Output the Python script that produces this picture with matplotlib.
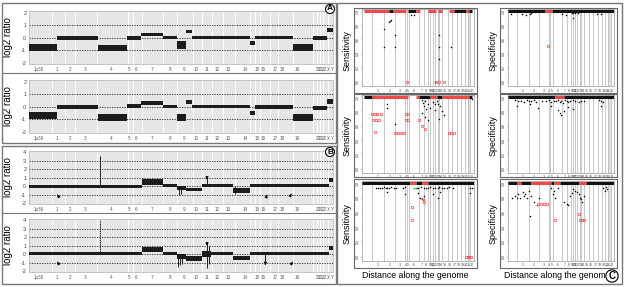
import matplotlib
matplotlib.use("Agg")
import matplotlib.pyplot as plt
from matplotlib.patches import Rectangle

plt.rcParams['font.family'] = ['Liberation Sans', 'DejaVu Sans']

W, H = 624, 287

# ---- panels A/B : array CGH profiles (genome position in probe-index units 0..304)
chrom_bounds = [23, 36, 46, 68, 99, 104, 113, 134, 148, 164, 173, 183, 194, 206,
                221, 226, 231, 241, 249, 264, 284, 288, 291, 294, 299]
chrom_tick_pos = [10, 28, 41, 56, 82, 100, 107, 123, 141, 155, 167, 178, 188, 199,
                  216, 228, 234, 246, 253, 268, 289, 292, 295, 299, 303]
chrom_labels = ['1p36', '1', '2', '3', '4', '5', '6', '7', '8', '9', '10', '11', '12',
                '13', '14', '15', '16', '17', '18', '19', '20', '21', '22', 'X', 'Y']

a1_start = [0, 28, 69, 98, 112, 134, 148, 157, 163, 221, 226, 264, 284, 298]
a1_end = [28, 69, 98, 112, 134, 148, 157, 163, 221, 226, 264, 284, 298, 304]
a1_level = [-0.75, 0.0, -0.8, 0.0, 0.25, 0.0, -0.6, 0.5, 0.0, -0.4, 0.0, -0.75, 0.0, 0.6]
a1_spread = [0.28, 0.14, 0.24, 0.14, 0.14, 0.13, 0.32, 0.14, 0.13, 0.16, 0.13, 0.28, 0.14, 0.17]

a2_start = [0, 28, 69, 98, 112, 134, 148, 157, 163, 221, 226, 264, 284, 298]
a2_end = [28, 69, 98, 112, 134, 148, 157, 163, 221, 226, 264, 284, 298, 304]
a2_level = [-0.7, 0.0, -0.85, 0.05, 0.28, 0.05, -0.85, 0.4, 0.0, -0.5, 0.0, -0.85, -0.1, 0.45]
a2_spread = [0.26, 0.15, 0.26, 0.15, 0.15, 0.12, 0.26, 0.16, 0.13, 0.16, 0.14, 0.28, 0.18, 0.2]

b1_start = [0, 113, 134, 148, 157, 173, 204, 221, 300]
b1_end = [113, 134, 148, 157, 173, 204, 221, 300, 304]
b1_level = [0.0, 0.45, 0.05, -0.2, -0.4, 0.1, -0.5, 0.05, 0.75]
b1_spread = [0.18, 0.35, 0.16, 0.25, 0.22, 0.16, 0.26, 0.17, 0.2]
b1_spike_x = [71, 150, 152, 178, 206]
b1_spike_lo = [0.0, -1.0, -0.9, 0.0, -0.9]
b1_spike_hi = [3.6, 0.0, 0.0, 1.2, 0.0]

b2_start = [0, 113, 134, 148, 157, 173, 182, 204, 221, 300]
b2_end = [113, 134, 148, 157, 173, 182, 204, 221, 300, 304]
b2_level = [0.05, 0.55, 0.1, -0.3, -0.5, 0.0, 0.1, -0.45, 0.05, 0.75]
b2_spread = [0.19, 0.35, 0.16, 0.3, 0.32, 0.35, 0.16, 0.26, 0.17, 0.2]
b2_spike_x = [71, 149, 151, 153, 178, 180, 236]
b2_spike_lo = [0.0, -1.5, -1.3, -1.1, -1.6, -1.2, -1.2]
b2_spike_hi = [4.0, 0.0, 0.0, 0.0, 1.4, 1.0, 0.0]

# arrows: head x, head y, tail x, tail y
b1_arrows = [(27, -0.7, 30, -1.3), (178, 0.75, 178, 1.3), (239, -0.7, 237, -1.4), (264, -0.6, 261, -1.2)]
b2_arrows = [(27, -0.6, 30, -1.2), (178, 1.0, 178, 1.6), (236, -1.3, 237, -0.7), (265, -0.6, 262, -1.2)]

# ---- panel C : sensitivity / specificity along the genome (0..123)
c_bounds = [11, 24, 36, 47, 49, 52, 63, 68, 73, 75, 78, 80, 83, 85, 88, 94, 99, 104,
            109, 113, 116, 119]
c_labels = [str(i) for i in range(1, 23)]

c_bars = {
    (0, 0): [(2, 30, 'r'), (30, 34, 'k'), (34, 48, 'r'), (51, 59, 'k'), (59, 64, 'r'),
             (73, 81, 'r'), (83, 88, 'r'), (96, 101, 'r'), (101, 114, 'k'), (114, 118, 'r'),
             (118, 121, 'k')],
    (0, 1): [(0, 43, 'k'), (43, 51, 'r'), (51, 123, 'k')],
    (1, 0): [(2, 11, 'k'), (11, 51, 'r'), (59, 63, 'r'), (63, 75, 'k'), (75, 82, 'r'),
             (82, 88, 'k'), (88, 118, 'r'), (118, 121, 'k')],
    (1, 1): [(0, 55, 'k'), (55, 65, 'r'), (65, 123, 'k')],
    (2, 0): [(0, 53, 'k'), (53, 59, 'r'), (59, 66, 'k'), (66, 73, 'r'), (73, 123, 'k')],
    (2, 1): [(0, 10, 'k'), (10, 15, 'r'), (15, 27, 'k'), (27, 50, 'r'), (50, 53, 'k'),
             (53, 60, 'r'), (60, 82, 'k'), (82, 90, 'r'), (90, 123, 'k')],
}

c_black_x = {
    (0, 0): [54, 57, 31, 30, 32, 24, 24, 36, 36, 85, 85, 85, 98, 80],
    (0, 1): [4, 16, 21, 26, 27, 63, 67, 74, 76, 78, 81, 103, 108, 76],
    (1, 0): [27, 27, 36, 66, 67, 68, 69, 70, 72, 78, 80, 82, 84, 86, 88, 90, 66, 69, 72,
             75, 80, 85, 121],
    (1, 1): [8, 12, 15, 18, 22, 24, 27, 30, 33, 40, 44, 47, 50, 53, 56, 58, 60, 62, 64, 66,
             68, 70, 72, 75, 78, 82, 85, 88, 106, 108, 110, 10, 25, 35, 50, 58, 60, 62, 65,
             70, 75, 108],
    (2, 0): [15, 18, 20, 22, 24, 26, 28, 30, 32, 35, 37, 45, 47, 60, 62, 65, 68, 70, 72, 75,
             78, 80, 83, 85, 88, 90, 93, 96, 100, 119, 121, 28, 47, 62, 64, 66, 68, 78, 83,
             86, 119],
    (2, 1): [5, 8, 10, 12, 14, 17, 18, 20, 22, 24, 25, 27, 30, 34, 36, 50, 52, 53, 55, 58,
             65, 68, 70, 72, 74, 76, 78, 80, 82, 84, 85, 86, 88, 110, 112, 114, 115],
}
c_black_y = {
    (0, 0): [0.95, 0.95, 0.86, 0.84, 0.88, 0.75, 0.49, 0.66, 0.49, 0.66, 0.49, 0.32, 0.49, 0.0],
    (0, 1): [0.96, 0.96, 0.95, 0.96, 0.97, 0.96, 0.95, 0.97, 0.97, 0.97, 0.97, 0.96, 0.96, 0.9],
    (1, 0): [0.9, 0.85, 0.62, 0.96, 0.92, 0.88, 0.95, 0.84, 0.9, 0.93, 0.9, 0.95, 0.9, 0.87,
             0.8, 0.75, 0.78, 0.72, 0.68, 0.85, 0.82, 0.7, 0.97],
    (1, 1): [0.96, 0.94, 0.95, 0.93, 0.96, 0.94, 0.95, 0.96, 0.93, 0.95, 0.94, 0.96, 0.93,
             0.95, 0.94, 0.96, 0.93, 0.95, 0.92, 0.96, 0.94, 0.93, 0.95, 0.96, 0.94, 0.93,
             0.95, 0.94, 0.96, 0.95, 0.93, 0.88, 0.9, 0.85, 0.88, 0.82, 0.78, 0.75, 0.8,
             0.86, 0.84, 0.88],
    (2, 0): [0.94, 0.93, 0.94, 0.93, 0.95, 0.94, 0.93, 0.94, 0.95, 0.93, 0.94, 0.93, 0.95,
             0.94, 0.93, 0.95, 0.94, 0.93, 0.94, 0.95, 0.93, 0.94, 0.93, 0.95, 0.94, 0.93,
             0.94, 0.95, 0.94, 0.93, 0.94, 0.88, 0.85, 0.87, 0.8, 0.78, 0.82, 0.85, 0.8,
             0.88, 0.87],
    (2, 1): [0.8, 0.82, 0.8, 0.85, 0.8, 0.88, 0.82, 0.85, 0.8, 0.9, 0.55, 0.82, 0.75, 0.7,
             0.8, 0.93, 0.85, 0.9, 0.8, 0.93, 0.75, 0.72, 0.7, 0.82, 0.86, 0.92, 0.9, 0.88,
             0.85, 0.8, 0.78, 0.75, 0.82, 0.93, 0.9, 0.95, 0.92],
}
c_red_x = {
    (0, 0): [49, 81, 85, 90],
    (0, 1): [46],
    (1, 0): [11, 14, 17, 21, 12, 15, 19, 14, 48, 51, 48, 51, 36, 40, 43, 46, 63, 66, 69,
             95, 98, 101],
    (1, 1): [],
    (2, 0): [55, 55, 67, 68, 114, 116, 118, 120],
    (2, 1): [35, 38, 42, 45, 55, 82, 84, 86, 88],
}
c_red_y = {
    (0, 0): [0.0, 0.0, 0.0, 0.0],
    (0, 1): [0.5],
    (1, 0): [0.76, 0.76, 0.76, 0.76, 0.68, 0.68, 0.68, 0.51, 0.76, 0.76, 0.68, 0.68, 0.5,
             0.5, 0.5, 0.5, 0.68, 0.6, 0.55, 0.5, 0.5, 0.5],
    (1, 1): [],
    (2, 0): [0.67, 0.5, 0.78, 0.75, 0.0, 0.0, 0.0, 0.0],
    (2, 1): [0.72, 0.72, 0.72, 0.72, 0.5, 0.58, 0.5, 0.5, 0.5],
}
c_green_x = {(2, 0): [57, 59]}
c_green_y = {(2, 0): [0.93, 0.93]}

RED = '#f04848'

fig = plt.figure(figsize=(W / 100, H / 100), dpi=100)


def add_px_axes(x0, y0, x1, y1):
    return fig.add_axes([x0 / W, 1 - y1 / H, (x1 - x0) / W, (y1 - y0) / H])


def fig_box(x0, y0, x1, y1, lw=1.0, ec='#777777'):
    fig.patches.append(Rectangle((x0 / W, 1 - y1 / H), (x1 - x0) / W, (y1 - y0) / H,
                                 transform=fig.transFigure, fill=False, ec=ec, lw=lw))


def fig_hline(x0, x1, y, lw=0.8, color='#777777'):
    fig.add_artist(plt.Line2D([x0 / W, x1 / W], [1 - y / H, 1 - y / H],
                              transform=fig.transFigure, color=color, lw=lw))


def cgh_panel(ax, starts, ends, levels, spreads, ylim, yticks):
    ax.set_facecolor('#e6e6e6')
    ax.set_xlim(0, 304)
    ax.set_ylim(*ylim)
    for b in chrom_bounds:
        ax.axvline(b, color='white', lw=0.7, zorder=1)
    for t in yticks[1:-1]:
        ax.axhline(t, color='#222222', lw=0.6, ls=(0, (1.5, 1.5)), zorder=2)
    for s, e, lv, sp in zip(starts, ends, levels, spreads):
        ax.fill_between([s, e], lv - sp, lv + sp, color='#1c1c1c', lw=0, zorder=3)
    ax.set_yticks(yticks)
    ax.set_yticklabels([str(t) for t in yticks], fontsize=4, color='#444444')
    ax.set_xticks(chrom_tick_pos)
    ax.set_xticklabels(chrom_labels, fontsize=3.3, color='#555555')
    ax.tick_params(length=0, pad=2)
    for sp in ax.spines.values():
        sp.set_color('#bbbbbb')
        sp.set_linewidth(0.6)


# panel A
axA1 = add_px_axes(29, 11, 333, 64)
cgh_panel(axA1, a1_start, a1_end, a1_level, a1_spread, (-2.1, 2.15), [-2, -1, 0, 1, 2])
axA2 = add_px_axes(29, 80, 333, 133)
cgh_panel(axA2, a2_start, a2_end, a2_level, a2_spread, (-2.1, 2.15), [-2, -1, 0, 1, 2])

# panel B
axB1 = add_px_axes(29, 151, 333, 204)
cgh_panel(axB1, b1_start, b1_end, b1_level, b1_spread, (-2.1, 4.15), [-2, -1, 0, 1, 2, 3, 4])
axB1.vlines(b1_spike_x, b1_spike_lo, b1_spike_hi, color='#1c1c1c', lw=0.7, zorder=4)
axB2 = add_px_axes(29, 219, 333, 272)
cgh_panel(axB2, b2_start, b2_end, b2_level, b2_spread, (-2.1, 4.15), [-2, -1, 0, 1, 2, 3, 4])
axB2.vlines(b2_spike_x, b2_spike_lo, b2_spike_hi, color='#1c1c1c', lw=0.7, zorder=4,
            linestyles=[(0, (1.5, 0.8))] + ['solid'] * (len(b2_spike_x) - 1))
for ax, arrows in ((axB1, b1_arrows), (axB2, b2_arrows)):
    for hx, hy, tx, ty in arrows:
        ax.annotate('', xy=(hx, hy), xytext=(tx, ty),
                    arrowprops=dict(arrowstyle='-|>', color='black', lw=0.6,
                                    mutation_scale=4), zorder=5)

for ax in (axA1, axA2, axB1, axB2):
    ax.text(-0.07, 0.5, 'log2 ratio', transform=ax.transAxes, rotation=90,
            ha='center', va='center', fontsize=7)

fig_box(2, 3, 336, 143)
fig_hline(2, 336, 73)
fig_box(2, 146, 336, 284)
fig_hline(2, 336, 213)

# panel C: outer figure-region boxes and inner plot regions (pixels)
box_x = [(354, 477), (500, 617)]
box_y = [(8, 93), (94, 177), (179, 268)]
plot_x = [(362, 474), (508, 614)]
plot_y = [(9, 86), (95, 173), (181, 261)]
for r in range(3):
    for c in range(2):
        bx0, bx1 = box_x[c]
        by0, by1 = box_y[r]
        fig_box(bx0, by0, bx1, by1, lw=0.8, ec='#666666')
        x0, x1 = plot_x[c]
        y0, y1 = plot_y[r]
        ax = add_px_axes(x0, y0, x1, y1)
        ax.set_xlim(0, 123)
        ax.set_ylim(-0.06, 1.03)
        for b in c_bounds:
            ax.axvline(b, color='#b0b0b0', lw=0.5, zorder=1)
        ax.axvspan(116, 119, color='#e0e0e0', lw=0, zorder=0)
        for s, e, col in c_bars[(r, c)]:
            ax.plot([s, e], [1.0, 1.0], color=RED if col == 'r' else '#111111',
                    lw=2.2, solid_capstyle='butt', zorder=3)
        ax.plot(c_black_x[(r, c)], c_black_y[(r, c)], 'o', ms=1.1, color='black',
                mec='none', zorder=4)
        ax.plot(c_red_x[(r, c)], c_red_y[(r, c)], 'o', ms=1.8, mfc='none', mec=RED,
                mew=0.5, zorder=4)
        if (r, c) in c_green_x:
            ax.plot(c_green_x[(r, c)], c_green_y[(r, c)], 's', ms=1.2, color='#30b030',
                    mec='none', zorder=4)
        edges = [0] + c_bounds + [123]
        centers = [(edges[i + 1] + edges[i + 2]) / 2 for i in range(22)]
        ax.set_xticks(centers)
        ax.set_xticklabels(c_labels, fontsize=2.6, color='#444444')
        ax.set_yticks([0, 0.2, 0.4, 0.6, 0.8, 1.0])
        ax.set_yticklabels(['0.0', '0.2', '0.4', '0.6', '0.8', '1.0'], fontsize=2.6,
                           rotation=90, va='center', color='#444444')
        ax.tick_params(length=1, width=0.3, pad=0.8, color='#888888')
        for sp in ax.spines.values():
            sp.set_color('#999999')
            sp.set_linewidth(0.5)
        name = 'Sensitivity' if c == 0 else 'Specificity'
        fig.text((bx0 - 7) / W, 1 - (by0 + by1) / 2 / H, name, rotation=90,
                 ha='center', va='center', fontsize=6.5)

fig.text(415 / W, 1 - 276 / H, 'Distance along the genome', ha='center', va='center',
         fontsize=6.3)
fig.text(557 / W, 1 - 276 / H, 'Distance along the genome', ha='center', va='center',
         fontsize=6.3)
fig_box(337, 3, 622, 284)

circ = dict(boxstyle='circle,pad=0.12', fc='white', ec='black', lw=0.8)
fig.text(330 / W, 1 - 9 / H, 'A', ha='center', va='center', fontsize=6,
         fontweight='bold', bbox=circ)
fig.text(330 / W, 1 - 152 / H, 'B', ha='center', va='center', fontsize=6,
         fontweight='bold', bbox=circ)
fig.text(612 / W, 1 - 276 / H, 'C', ha='center', va='center', fontsize=7,
         fontweight='bold', bbox=circ)

fig.savefig('out.png', dpi=100)
